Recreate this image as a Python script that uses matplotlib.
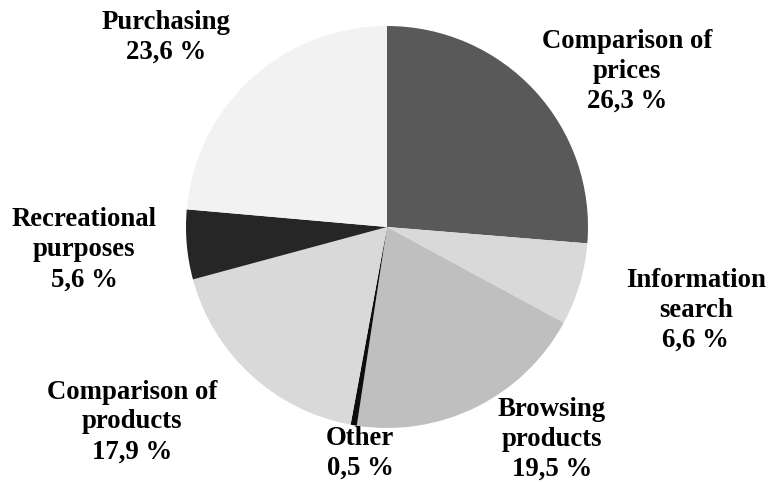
import matplotlib.pyplot as plt

categories = ["Comparison of\nprices", "Information\nsearch", "Browsing\nproducts", "Other",
              "Comparison of\nproducts", "Recreational\npurposes", "Purchasing"]
shares = [26.3, 6.6, 19.5, 0.5, 17.9, 5.6, 23.6]
colors = ["#595959", "#d9d9d9", "#bfbfbf", "#0d0d0d", "#d9d9d9", "#262626", "#f2f2f2"]

# label positions in pie data units (radius = 1)
label_pos = [(1.194, 0.776), (1.537, -0.413), (0.821, -1.055), (-0.134, -1.125),
             (-1.269, -0.970), (-1.507, -0.114), (-1.100, 0.945)]

fig = plt.figure(figsize=(7.68, 4.83), dpi=100)
ax = fig.add_axes([(387 - 201) / 768, (483 - 227 - 201) / 483, 402 / 768, 402 / 483])

ax.pie(shares, colors=colors, startangle=90, counterclock=False, radius=1,
       wedgeprops=dict(linewidth=0))
ax.set_xlim(-1, 1)
ax.set_ylim(-1, 1)
ax.set_aspect("equal")
ax.axis("off")

for name, val, (x, y) in zip(categories, shares, label_pos):
    txt = f"{name}\n{val:.1f} %".replace(".", ",")
    ax.text(x, y, txt, ha="center", va="center", fontsize=19.3, fontweight="bold",
            family="Liberation Serif", linespacing=1.26, clip_on=False)

fig.savefig("out.png", dpi=100)
